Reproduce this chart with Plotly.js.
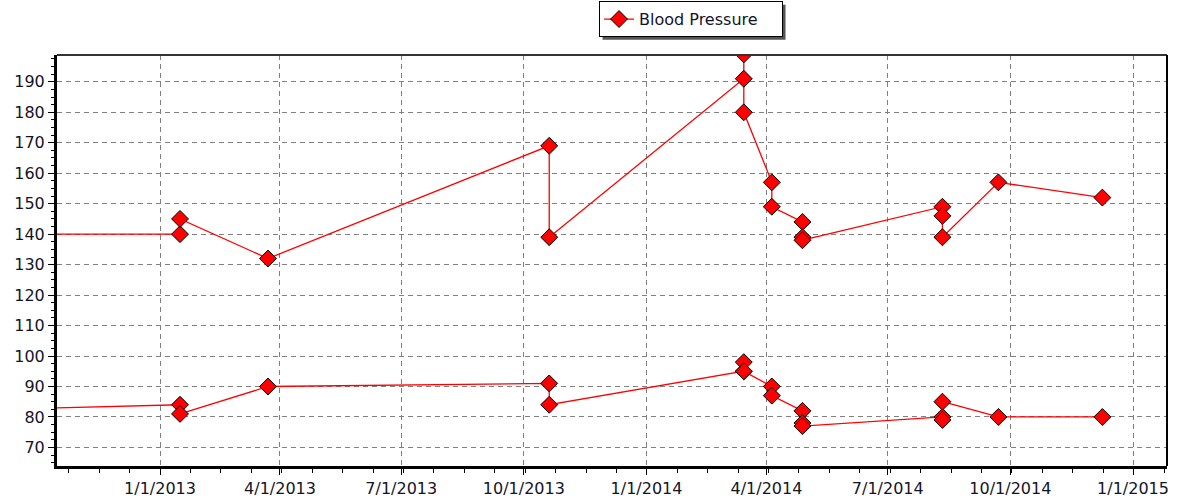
<!DOCTYPE html>
<html>
<head>
<meta charset="utf-8">
<script src="https://cdn.plot.ly/plotly-3.0.1.min.js"></script>
<style>
  html, body { margin: 0; padding: 0; background: #ffffff; }
  #chart { width: 1180px; height: 500px; }
</style>
</head>
<body>
<div id="chart"></div>
<script>
// Readings (first one is before the visible range, so the lines enter from the left edge)
const readingDates = ['2012-07-15','2013-01-16','2013-01-16','2013-03-23','2013-10-20','2013-10-20',
  '2014-03-15','2014-03-15','2014-03-15','2014-04-05','2014-04-05','2014-04-28','2014-04-28','2014-04-28',
  '2014-08-11','2014-08-11','2014-08-11','2014-09-22','2014-12-09'];
const systolic  = [140,140,145,132,169,139,191,199,180,157,149,144,139,138,149,146,139,157,152];
const diastolic = [ 82, 84, 81, 90, 91, 84, 95, 98, 95, 90, 87, 82, 78, 77, 80, 79, 85, 80, 80];
const seriesName = 'Blood Pressure';
const xTickFormat = '%-m/%-d/%Y';

const FONT = 'DejaVu Sans, Verdana, sans-serif';
const markerStyle = { symbol: 'diamond', size: 13, color: '#ff0000', line: { color: '#000000', width: 1 } };
const lineStyle = { color: '#ff0000', width: 1.3 };

const data = [
  { x: readingDates, y: systolic, type: 'scatter', mode: 'lines+markers', name: seriesName,
    legendgroup: 'bp', line: lineStyle, marker: markerStyle, cliponaxis: true },
  { x: readingDates, y: diastolic, type: 'scatter', mode: 'lines+markers', name: seriesName,
    legendgroup: 'bp', showlegend: false, line: lineStyle, marker: markerStyle, cliponaxis: true }
];

const layout = {
  width: 1180, height: 500, autosize: false,
  margin: { l: 57, r: 13, t: 55, b: 34, pad: 0, autoexpand: false },
  paper_bgcolor: '#ffffff', plot_bgcolor: '#ffffff',
  font: { family: FONT, size: 16, color: '#141428' },
  showlegend: true,
  legend: {
    x: 0.5712, xanchor: 'center', y: 1.131, yanchor: 'top',
    bgcolor: '#ffffff', bordercolor: '#000000', borderwidth: 1,
    font: { family: FONT, size: 16, color: '#141428' },
    orientation: 'h', itemwidth: 30, entrywidth: 138
  },
  xaxis: {
    type: 'date',
    range: ['2012-10-15 17:00', '2015-01-26 12:00'],
    tick0: '2013-01-01', dtick: 'M3', tickformat: xTickFormat,
    showgrid: true, gridcolor: '#808080', gridwidth: 1, griddash: '5px,4px',
    showline: true, linecolor: '#000000', linewidth: 3,
    ticks: 'outside', ticklen: 6, tickcolor: '#000000', tickwidth: 1,
    minor: { tick0: '2013-01-01', dtick: 1972350000, ticks: 'outside', ticklen: 4, tickcolor: '#000000', showgrid: false },
    zeroline: false, fixedrange: true,
    tickfont: { family: FONT, size: 16, color: '#141428' }
  },
  yaxis: {
    range: [63.9, 198.8], dtick: 10, tick0: 0,
    showgrid: true, gridcolor: '#808080', gridwidth: 1, griddash: '5px,4px',
    showline: true, linecolor: '#000000', linewidth: 3,
    ticks: 'outside', ticklen: 6, tickcolor: '#000000', tickwidth: 1,
    minor: { dtick: 2.5, ticks: 'outside', ticklen: 3, tickcolor: '#000000', showgrid: false },
    zeroline: false, fixedrange: true,
    tickfont: { family: FONT, size: 16, color: '#141428' }
  },
  shapes: [
    { type: 'line', xref: 'paper', yref: 'paper', x0: 0, x1: 1, y0: 1, y1: 1, line: { color: '#333333', width: 2 }, layer: 'above' },
    { type: 'line', xref: 'paper', yref: 'paper', x0: 1, x1: 1, y0: 0, y1: 1, line: { color: '#000000', width: 2 }, layer: 'above' }
  ]
};

Plotly.newPlot('chart', data, layout, { displayModeBar: false, staticPlot: true }).then(function (gd) {
  const bg = gd.querySelector('.legend .bg');
  if (!bg) return;
  const r = bg.getBoundingClientRect();
  const g = gd.getBoundingClientRect();
  const s = gd._fullLayout._size;
  const off = 3;
  const left = r.left - g.left + off, right = r.right - g.left + off;
  const top = r.top - g.top + off, bottom = r.bottom - g.top + off;
  const shadow = {
    type: 'rect', xref: 'paper', yref: 'paper', layer: 'below',
    x0: (left - s.l) / s.w, x1: (right - s.l) / s.w,
    y0: 1 - (bottom - s.t) / s.h, y1: 1 - (top - s.t) / s.h,
    fillcolor: '#555555', line: { width: 0 }
  };
  Plotly.relayout(gd, { shapes: layout.shapes.concat([shadow]) });
});
</script>
</body>
</html>
